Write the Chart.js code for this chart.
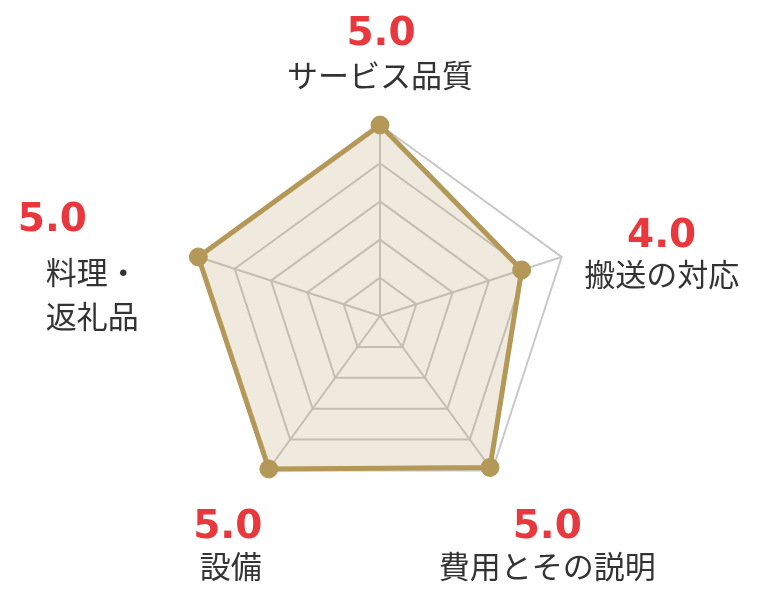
<!DOCTYPE html>
<html lang="ja">
  <head>
    <meta charset="UTF-8" />
    <title>評価レーダー</title>
    <script src="https://cdn.jsdelivr.net/npm/chart.js"></script>
    <style>
      html, body { margin: 0; padding: 0; background: #ffffff; }
      #wrap { width: 760px; height: 600px; }
    </style>
  </head>
  <body>
    <div id="wrap"><canvas id="radar"></canvas></div>
    <script>
      // categories (one array entry per line of the label)
      const categories = [
        ["サービス品質"],
        ["搬送の対応"],
        ["費用とその説明"],
        ["設備"],
        ["料理・", "返礼品"]
      ];
      // plotted scores
      const scores = [5.0, 3.9, 4.9, 4.95, 5.0];
      // scores as printed above each label
      const scoreLabels = ["5.0", "4.0", "5.0", "5.0", "5.0"];
      const scaleMax = 5;
      const scaleStep = 1;

      // where the texts sit relative to each outer corner of the web
      // (score: alphabetic baseline, label: middle of line)
      const scoreNudge = [[1, -80], [100, -10], [55, 67], [-40, 67], [-146, -26]];
      const labelNudge = [[0, -50], [100, 17], [55, 96], [-37, 96], [-106, 15]];
      const lineGap = 44;

      const gold = "#b39858";

      const cornerText = {
        id: "cornerText",
        afterDraw(chart) {
          const scale = chart.scales.r;
          const ctx = chart.ctx;
          ctx.save();
          ctx.textAlign = "center";
          categories.forEach((lines, i) => {
            const p = scale.getPointPositionForValue(i, scaleMax);
            ctx.fillStyle = "#e8383d";
            ctx.font = "bold 39px 'DejaVu Sans', sans-serif";
            ctx.textBaseline = "alphabetic";
            ctx.fillText(scoreLabels[i], p.x + scoreNudge[i][0], p.y + scoreNudge[i][1]);
            ctx.fillStyle = "#333333";
            ctx.font = "31px 'Noto Sans CJK JP', sans-serif";
            ctx.textBaseline = "middle";
            lines.forEach((line, k) => {
              ctx.fillText(line, p.x + labelNudge[i][0], p.y + labelNudge[i][1] + k * lineGap);
            });
          });
          ctx.restore();
        }
      };

      new Chart(document.getElementById("radar"), {
        type: "radar",
        data: {
          labels: categories.map((l) => l.join("")),
          datasets: [
            {
              data: scores,
              borderColor: gold,
              borderWidth: 5,
              backgroundColor: "rgba(179, 152, 88, 0.2)",
              fill: true,
              pointRadius: 9,
              pointBackgroundColor: gold,
              pointBorderColor: gold,
              pointBorderWidth: 1
            }
          ]
        },
        options: {
          responsive: true,
          maintainAspectRatio: false,
          animation: false,
          layout: { padding: { top: 125, bottom: 93, left: 0, right: 0 } },
          plugins: { legend: { display: false }, tooltip: { enabled: false } },
          elements: { line: { tension: 0 } },
          scales: {
            r: {
              min: 0,
              max: scaleMax,
              ticks: { display: false, stepSize: scaleStep },
              grid: { color: "#c8c8c8", lineWidth: 2 },
              angleLines: { color: "#c8c8c8", lineWidth: 2 },
              pointLabels: { display: false }
            }
          }
        },
        plugins: [cornerText]
      });
    </script>
  </body>
</html>
